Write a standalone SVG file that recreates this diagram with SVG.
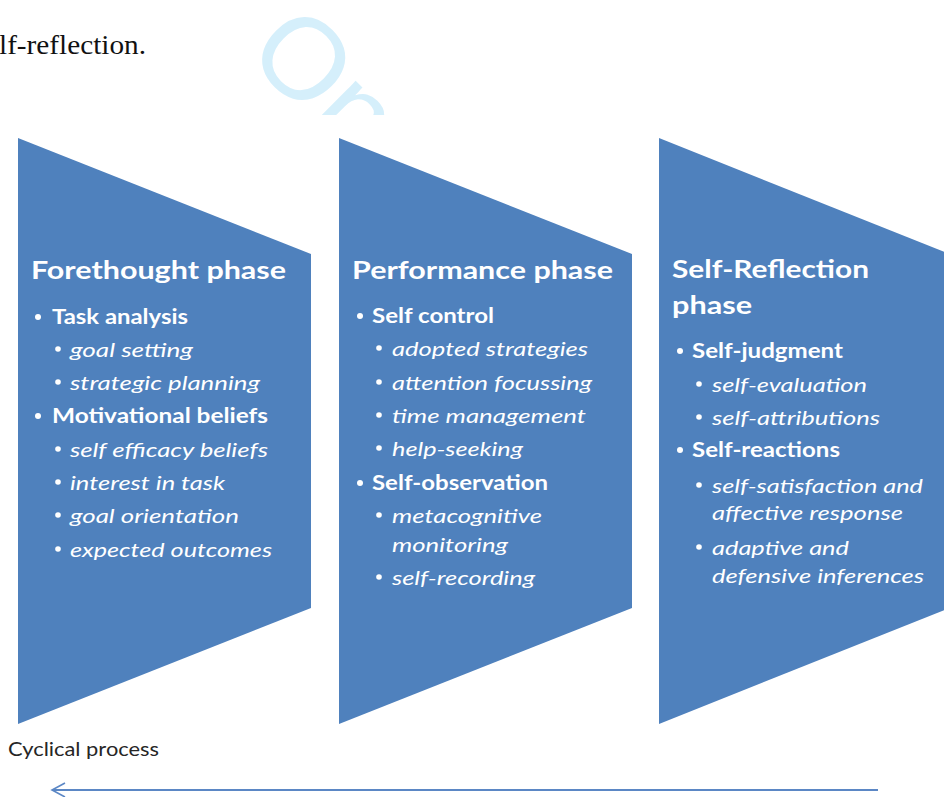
<svg xmlns="http://www.w3.org/2000/svg" width="944" height="797" viewBox="0 0 944 797">
<style>
.shape{fill:#4f81bd}
.t{font-family:Lato,"Open Sans","Liberation Sans",sans-serif;fill:#ffffff}
.h{font-size:24px;font-weight:700}
.b{font-size:20px;font-weight:700}
.i{font-size:20px;font-style:italic}
.dot{fill:#ffffff}
.wm{font-family:"Liberation Sans",Arial,sans-serif;font-size:115px;fill:#d5effb}
.cap{font-family:"Liberation Serif","Times New Roman",serif;font-size:28px;fill:#111}
.cyc{font-family:Lato,"Open Sans",sans-serif;font-size:20px;fill:#262626}
</style>
<defs>
<clipPath id="wmclip"><rect x="0" y="0" width="944" height="115"/></clipPath>
</defs>
<rect width="944" height="797" fill="#ffffff"/>
<g clip-path="url(#wmclip)">
<text class="wm" transform="translate(244,55) rotate(45)">On</text>
</g>
<text class="cap" x="-1" y="54" textLength="147" lengthAdjust="spacingAndGlyphs">lf-reflection.</text>

<g id="forethought">
<polygon class="shape" points="18,138 311,254 311,608 18,724"/>
<text class="t h" x="31" y="279" textLength="255" lengthAdjust="spacingAndGlyphs">Forethought phase</text>
<circle class="dot" cx="38" cy="317" r="3"/>
<text class="t b" x="52" y="324" textLength="136" lengthAdjust="spacingAndGlyphs">Task analysis</text>
<circle class="dot" cx="58" cy="349" r="2.8"/>
<text class="t i" x="70" y="357" textLength="123" lengthAdjust="spacingAndGlyphs">goal setting</text>
<circle class="dot" cx="58" cy="382" r="2.8"/>
<text class="t i" x="70" y="390" textLength="190" lengthAdjust="spacingAndGlyphs">strategic planning</text>
<circle class="dot" cx="38" cy="416" r="3"/>
<text class="t b" x="52" y="423" textLength="216" lengthAdjust="spacingAndGlyphs">Motivational beliefs</text>
<circle class="dot" cx="58" cy="449" r="2.8"/>
<text class="t i" x="70" y="457" textLength="198" lengthAdjust="spacingAndGlyphs">self efficacy beliefs</text>
<circle class="dot" cx="58" cy="482" r="2.8"/>
<text class="t i" x="70" y="490" textLength="155" lengthAdjust="spacingAndGlyphs">interest in task</text>
<circle class="dot" cx="58" cy="515" r="2.8"/>
<text class="t i" x="70" y="523" textLength="169" lengthAdjust="spacingAndGlyphs">goal orientation</text>
<circle class="dot" cx="58" cy="549" r="2.8"/>
<text class="t i" x="70" y="557" textLength="202" lengthAdjust="spacingAndGlyphs">expected outcomes</text>
</g>

<g id="performance">
<polygon class="shape" points="339,138 632,254 632,608 339,724"/>
<text class="t h" x="352" y="279" textLength="261" lengthAdjust="spacingAndGlyphs">Performance phase</text>
<circle class="dot" cx="360" cy="316" r="3"/>
<text class="t b" x="372" y="323" textLength="122" lengthAdjust="spacingAndGlyphs">Self control</text>
<circle class="dot" cx="379" cy="348" r="2.8"/>
<text class="t i" x="392" y="356" textLength="196" lengthAdjust="spacingAndGlyphs">adopted strategies</text>
<circle class="dot" cx="379" cy="382" r="2.8"/>
<text class="t i" x="392" y="390" textLength="200" lengthAdjust="spacingAndGlyphs">attention focussing</text>
<circle class="dot" cx="379" cy="415" r="2.8"/>
<text class="t i" x="392" y="423" textLength="194" lengthAdjust="spacingAndGlyphs">time management</text>
<circle class="dot" cx="379" cy="448" r="2.8"/>
<text class="t i" x="392" y="456" textLength="131" lengthAdjust="spacingAndGlyphs">help-seeking</text>
<circle class="dot" cx="360" cy="483" r="3"/>
<text class="t b" x="372" y="490" textLength="176" lengthAdjust="spacingAndGlyphs">Self-observation</text>
<circle class="dot" cx="379" cy="515" r="2.8"/>
<text class="t i" x="392" y="523" textLength="150" lengthAdjust="spacingAndGlyphs">metacognitive</text>
<text class="t i" x="392" y="552" textLength="116" lengthAdjust="spacingAndGlyphs">monitoring</text>
<circle class="dot" cx="379" cy="577" r="2.8"/>
<text class="t i" x="392" y="585" textLength="143" lengthAdjust="spacingAndGlyphs">self-recording</text>
</g>

<g id="selfreflection">
<polygon class="shape" points="659,138 952,255 952,607 659,724"/>
<text class="t h" x="672" y="278" textLength="197" lengthAdjust="spacingAndGlyphs">Self-Reflection</text>
<text class="t h" x="672" y="314" textLength="80" lengthAdjust="spacingAndGlyphs">phase</text>
<circle class="dot" cx="680" cy="351" r="3"/>
<text class="t b" x="692" y="358" textLength="151" lengthAdjust="spacingAndGlyphs">Self-judgment</text>
<circle class="dot" cx="699" cy="384" r="2.8"/>
<text class="t i" x="712" y="392" textLength="155" lengthAdjust="spacingAndGlyphs">self-evaluation</text>
<circle class="dot" cx="699" cy="417" r="2.8"/>
<text class="t i" x="712" y="425" textLength="168" lengthAdjust="spacingAndGlyphs">self-attributions</text>
<circle class="dot" cx="680" cy="450" r="3"/>
<text class="t b" x="692" y="457" textLength="148" lengthAdjust="spacingAndGlyphs">Self-reactions</text>
<circle class="dot" cx="699" cy="485" r="2.8"/>
<text class="t i" x="712" y="493" textLength="211" lengthAdjust="spacingAndGlyphs">self-satisfaction and</text>
<text class="t i" x="712" y="520" textLength="191" lengthAdjust="spacingAndGlyphs">affective response</text>
<circle class="dot" cx="699" cy="547" r="2.8"/>
<text class="t i" x="712" y="555" textLength="137" lengthAdjust="spacingAndGlyphs">adaptive and</text>
<text class="t i" x="712" y="583" textLength="212" lengthAdjust="spacingAndGlyphs">defensive inferences</text>
</g>

<text class="cyc" x="8" y="756" textLength="151" lengthAdjust="spacingAndGlyphs">Cyclical process</text>

<g id="connectors" fill="none" stroke="#5b87c5" stroke-width="2">
<line x1="52" y1="790" x2="878" y2="790"/>
<polyline points="65,783 52,790 65,797" stroke-width="1.6"/>
</g>
</svg>
